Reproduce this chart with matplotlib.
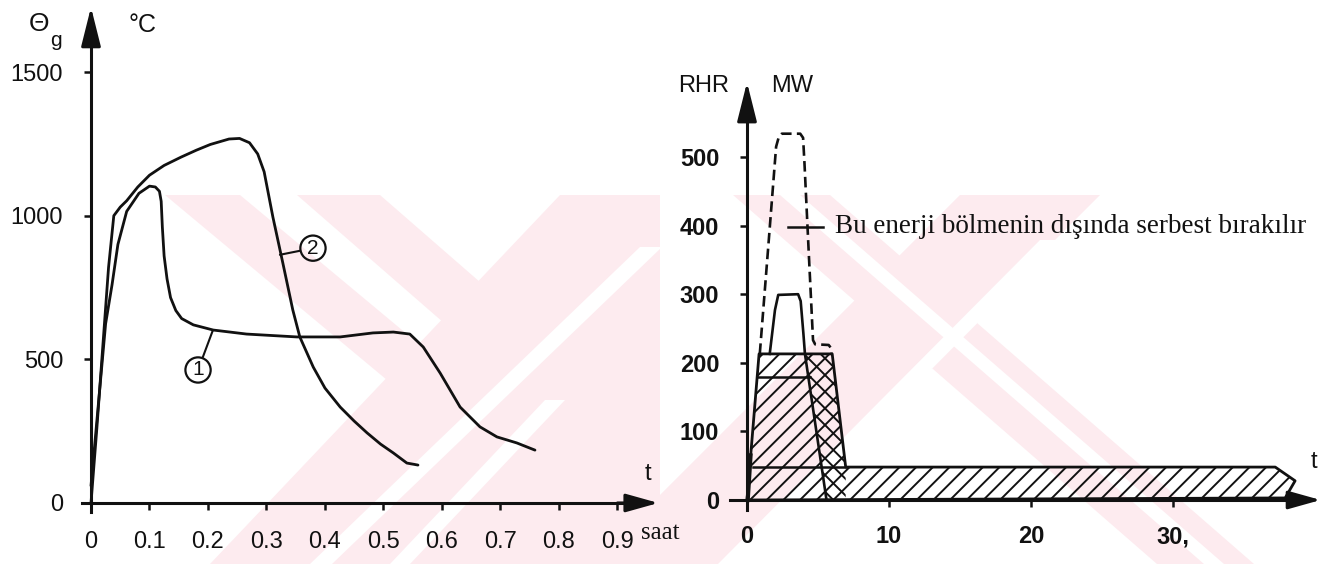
import matplotlib
matplotlib.use('Agg')
import matplotlib.pyplot as plt
from matplotlib.patches import Polygon

W, H, DPI = 1337, 564, 100
INK = '#111111'
PINK = '#fdebef'

# ---------------- data: left panel (gas temperature, deg C vs hours) ----------
curve1_t = [0.0, 0.012, 0.025, 0.036, 0.046, 0.061, 0.082, 0.100, 0.110, 0.117,
            0.120, 0.122, 0.125, 0.130, 0.136, 0.145, 0.155, 0.175, 0.209, 0.266,
            0.352, 0.426, 0.482, 0.517, 0.545, 0.568, 0.597, 0.631, 0.665, 0.694,
            0.728, 0.759]
curve1_T = [60, 330, 624, 760, 900, 1015, 1078, 1103, 1100, 1085,
            1050, 960, 860, 780, 715, 670, 642, 620, 602, 588,
            578, 578, 592, 595, 588, 543, 452, 334, 265, 230,
            209, 184]
curve2_t = [0.0, 0.010, 0.020, 0.030, 0.039, 0.050, 0.061, 0.080, 0.100, 0.125,
            0.154, 0.180, 0.204, 0.236, 0.254, 0.271, 0.285, 0.296, 0.311, 0.328,
            0.345, 0.357, 0.380, 0.400, 0.426, 0.450, 0.472, 0.495, 0.517, 0.540,
            0.559]
curve2_T = [0, 260, 540, 820, 1000, 1030, 1052, 1100, 1141, 1175,
            1204, 1228, 1248, 1267, 1269, 1254, 1215, 1153, 995, 835,
            672, 578, 473, 400, 334, 285, 244, 205, 174, 139,
            132]
left_xticks = [0.0, 0.1, 0.2, 0.3, 0.4, 0.5, 0.6, 0.7, 0.8, 0.9]
left_xlabels = ['0', '0.1', '0.2', '0.3', '0.4', '0.5', '0.6', '0.7', '0.8', '0.9']
left_yticks = [0, 500, 1000, 1500]
label1_pos = (0.183, 463)
label1_anchor = (0.2085, 602)
label2_pos = (0.3795, 887)
label2_anchor = (0.323, 864)

# ---------------- data: right panel (RHR, MW vs time) ----------------
total_t = [0.9, 1.5, 2.05, 2.25, 2.45, 3.75, 3.95, 4.05, 4.35, 4.65, 4.8, 5.75, 5.9, 5.95]
total_q = [213, 370, 515, 530, 534, 534, 528, 490, 360, 233, 227, 226, 222, 213]
inside_t = [1.6, 1.97, 2.2, 3.6, 3.78, 3.97, 4.08, 5.6]
inside_q = [213, 277, 299, 300, 290, 243, 213, 0]
hatched_t = [0.0, 0.85, 6.0, 6.95, 37.2, 38.6, 37.9, 0.0]
hatched_q = [0, 213, 213, 48, 48, 28, 3, 0]
cross_t = [4.08, 6.0, 6.95, 6.95, 5.6]
cross_q = [213, 213, 48, 0, 0]
plateau180_t = [0.75, 4.45]
plateau180_q = [180, 180]
level48_t = [0.45, 6.95]
level48_q = [48, 48]
spike_t = [0.05, 0.25]
spike_q = [0, 65]
leader_t = [2.9, 5.35]
leader_q = [398, 398]
right_xticks = [0, 10, 20, 30]
right_xlabels = ['0', '10', '20', '30,']
right_yticks = [0, 100, 200, 300, 400, 500]
note_text = 'Bu enerji bölmenin dışında serbest bırakılır'
note_pos = (6.2, 398)

# ---------------- watermark (background decoration, pixel coords) -----------
wm_pink = [
    [(165, 195), (240, 195), (540, 445), (465, 445)],
    [(297, 195), (380, 195), (558, 350), (475, 350)],
    [(560, 195), (660, 195), (660, 564), (210, 564)],
    [(733, 195), (830, 195), (1254, 564), (1157, 564)],
    [(960, 195), (1100, 195), (731, 564), (591, 564)],
]
wm_white = [
    [(640, 247), (662, 247), (332, 564), (310, 564)],
    [(545, 400), (565, 400), (410, 564), (390, 564)],
    [(1040, 240), (1060, 240), (738, 564), (718, 564)],
    [(780, 195), (800, 195), (1224, 564), (1204, 564)],
]

plt.rcParams['hatch.linewidth'] = 1.4
plt.rcParams['font.family'] = ['Liberation Sans', 'DejaVu Sans']

fig = plt.figure(figsize=(W / DPI, H / DPI), dpi=DPI)
fig.patch.set_facecolor('white')


def fpt(p):
    return (p[0] / W, 1 - p[1] / H)


for poly in wm_pink:
    fig.patches.append(Polygon([fpt(p) for p in poly], closed=True, transform=fig.transFigure,
                               fc=PINK, ec='none', zorder=-3))
for poly in wm_white:
    fig.patches.append(Polygon([fpt(p) for p in poly], closed=True, transform=fig.transFigure,
                               fc='white', ec='none', zorder=-2))

# ---------------- left axes ----------------
axL = fig.add_axes([79.3 / W, 1 - 511.6 / H, 582.0 / W, 505.6 / H])
axL.patch.set_alpha(0)
axL.set_xlim(-0.02, 0.975)
axL.set_ylim(-30, 1730)

axL.plot(curve1_t, curve1_T, color=INK, lw=2.0, solid_capstyle='round', solid_joinstyle='round')
axL.plot(curve2_t, curve2_T, color=INK, lw=2.0, solid_capstyle='round', solid_joinstyle='round')

circ = dict(boxstyle='circle,pad=0.15', fc='none', ec=INK, lw=1.6)
axL.annotate('1', xy=label1_anchor, xytext=label1_pos, ha='center', va='center',
             fontsize=15, color=INK, bbox=circ,
             arrowprops=dict(arrowstyle='-', color=INK, lw=1.5, shrinkA=0, shrinkB=0))
axL.annotate('2', xy=label2_anchor, xytext=label2_pos, ha='center', va='center',
             fontsize=15, color=INK, bbox=circ,
             arrowprops=dict(arrowstyle='-', color=INK, lw=1.5, shrinkA=0, shrinkB=0))

for s in ['top', 'right']:
    axL.spines[s].set_visible(False)
axL.spines['left'].set_position(('data', 0))
axL.spines['bottom'].set_position(('data', 0))
axL.spines['left'].set_bounds(-30, 1650)
axL.spines['bottom'].set_bounds(-0.015, 0.93)
for s in ['left', 'bottom']:
    axL.spines[s].set_linewidth(2.2)
    axL.spines[s].set_color(INK)
axL.annotate('', xy=(0, 1726), xytext=(0, 1600),
             arrowprops=dict(arrowstyle='-|>,head_length=1.2,head_width=0.3', mutation_scale=20,
                             color=INK, lw=2.2, shrinkA=0, shrinkB=0))
axL.annotate('', xy=(0.97, 0), xytext=(0.9, 0),
             arrowprops=dict(arrowstyle='-|>,head_length=1.0,head_width=0.28', mutation_scale=20,
                             color=INK, lw=2.2, shrinkA=0, shrinkB=0))
axL.set_xticks(left_xticks)
axL.set_xticklabels(left_xlabels)
axL.set_yticks(left_yticks)
axL.tick_params(axis='both', direction='out', length=5, width=1.8, color=INK,
                labelsize=17, labelcolor=INK)
axL.tick_params(axis='x', pad=15)
axL.tick_params(axis='y', pad=15)

# ---------------- right axes ----------------
axR = fig.add_axes([725.7 / W, 1 - 510.3 / H, 597.8 / W, 435.6 / H])
axR.patch.set_alpha(0)
axR.set_xlim(-1.5, 40.6)
axR.set_ylim(-15, 620)

axR.fill(hatched_t, hatched_q, fc='none', ec=INK, lw=2.0, hatch='//', joinstyle='round')
axR.fill(cross_t, cross_q, fc='none', ec=INK, lw=0, hatch='\\\\')
axR.plot(total_t, total_q, color=INK, lw=1.9, ls=(0, (4, 2)))
axR.plot(inside_t, inside_q, color=INK, lw=1.9, solid_joinstyle='round')
axR.plot(plateau180_t, plateau180_q, color=INK, lw=1.8)
axR.plot(level48_t, level48_q, color=INK, lw=1.8)
axR.plot(spike_t, spike_q, color=INK, lw=3.0)
axR.plot(leader_t, leader_q, color=INK, lw=1.8)
axR.text(note_pos[0], note_pos[1], note_text, ha='left', va='center', fontsize=19.5,
         color=INK, family=['Liberation Serif', 'DejaVu Serif'])

for s in ['top', 'right']:
    axR.spines[s].set_visible(False)
axR.spines['left'].set_position(('data', 0))
axR.spines['bottom'].set_position(('data', 0))
axR.spines['left'].set_bounds(-15, 580)
axR.spines['bottom'].set_bounds(-1.2, 39.0)
for s in ['left', 'bottom']:
    axR.spines[s].set_linewidth(2.2)
    axR.spines[s].set_color(INK)
axR.annotate('', xy=(0, 609), xytext=(0, 560),
             arrowprops=dict(arrowstyle='-|>,head_length=1.2,head_width=0.3', mutation_scale=20,
                             color=INK, lw=2.2, shrinkA=0, shrinkB=0))
axR.annotate('', xy=(40.4, 0), xytext=(38.0, 0),
             arrowprops=dict(arrowstyle='-|>,head_length=1.0,head_width=0.28', mutation_scale=20,
                             color=INK, lw=2.2, shrinkA=0, shrinkB=0))
axR.set_xticks(right_xticks)
axR.set_xticklabels(right_xlabels)
axR.set_yticks(right_yticks)
axR.tick_params(axis='both', direction='out', length=5, width=1.8, color=INK,
                labelsize=17, labelcolor=INK)
axR.tick_params(axis='x', pad=13)
axR.tick_params(axis='y', pad=15)
for lab in axR.get_xticklabels() + axR.get_yticklabels():
    lab.set_fontweight('bold')

# ---------------- axis titles (figure pixel positions) ----------------
def ftext(x, y, s, **kw):
    fig.text(x / W, 1 - y / H, s, color=INK, **kw)

ftext(39, 24, 'Θ', fontsize=19, ha='center', va='center')
ftext(56, 40, 'g', fontsize=15, ha='center', va='center')
ftext(142, 25, '°C', fontsize=18, ha='center', va='center')
ftext(648, 474, 't', fontsize=17, ha='center', va='center')
ftext(660, 533, 'saat', fontsize=18, ha='center', va='center', family=['Liberation Serif', 'DejaVu Serif'])
ftext(704, 86, 'RHR', fontsize=17, ha='center', va='center')
ftext(792, 86, 'MW', fontsize=17, ha='center', va='center')
ftext(1314, 462, 't', fontsize=17, ha='center', va='center')

fig.savefig('out.png', dpi=DPI, facecolor='white')
